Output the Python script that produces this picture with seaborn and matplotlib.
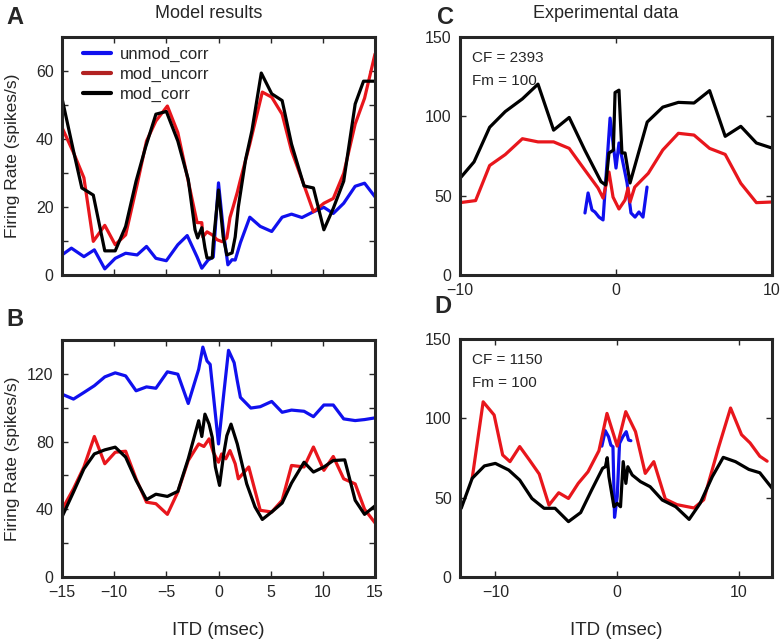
import numpy as np
import pandas as pd
import matplotlib
matplotlib.use("Agg")
import matplotlib.pyplot as plt
import seaborn as sns

# ---- Panel A : model results, top
a_x_unmod = [-15, -14.1, -12.9, -11.9, -10.9, -9.9, -8.9, -7.8, -6.9, -6.0, -5.0, -3.9, -3.0, -2.05, -1.6, -1.0,
             -0.5, 0.0, 0.5, 0.9, 1.3, 1.6, 2.1, 3.0, 4.0, 5.1, 6.1, 7.0, 8.0, 9.1, 10.1, 11.0, 12.0, 13.1, 14.0, 15.0]
a_unmod = [5.9, 7.9, 5.4, 7.4, 1.8, 4.9, 6.4, 5.9, 8.4, 4.9, 4.2, 8.9, 11.6, 5.3, 2.0, 4.4,
           5.3, 27.1, 12.0, 3.0, 4.5, 4.4, 9.5, 17.0, 14.3, 12.8, 17.0, 17.9, 16.9, 18.6, 19.9, 18.1, 21.1, 26.1, 27.0, 23.0]
a_x_uncorr = [-15, -13.9, -12.9, -12.0, -10.9, -9.9, -8.9, -7.8, -6.9, -6.0, -4.9, -3.9, -2.9, -2.05, -1.6, -1.5,
              -1.1, -0.6, -0.15, 0.35, 0.8, 1.1, 1.4, 1.8, 2.1, 3.0, 4.2, 5.1, 6.1, 7.0, 8.0, 9.1, 10.1, 11.0, 12.0,
              13.1, 14.0, 15.0]
a_uncorr = [43.4, 36.0, 28.6, 9.9, 14.6, 8.9, 11.8, 26.6, 39.4, 45.3, 49.7, 41.9, 27.6, 15.4, 15.4, 11.2,
            12.7, 11.8, 10.4, 9.8, 10.9, 16.9, 20.0, 24.3, 28.0, 38.5, 53.8, 52.3, 47.3, 36.5, 28.1, 18.6, 21.1, 22.5,
            29.9, 44.4, 52.0, 65.0]
a_x_corr = [-15, -13.9, -13.1, -12.0, -10.9, -9.9, -8.9, -7.9, -7.0, -6.0, -5.0, -3.9, -2.9, -2.25, -2.0, -1.6,
            -1.3, -1.1, -0.6, -0.5, 0.0, 0.45, 0.8, 1.3, 1.6, 1.9, 2.6, 3.2, 4.1, 5.1, 6.1, 7.0, 8.2, 9.1, 10.1, 11.0,
            12.0, 13.1, 13.9, 15.0]
a_corr = [52.0, 36.5, 25.6, 23.5, 7.1, 7.1, 14.3, 27.6, 37.5, 47.3, 48.1, 39.4, 28.1, 13.3, 10.9, 13.9,
          8.0, 5.0, 5.0, 9.5, 25.0, 11.2, 5.9, 6.5, 11.2, 20.0, 34.0, 42.4, 59.4, 53.3, 51.3, 38.5, 26.2, 25.6, 13.3,
          19.6, 27.6, 50.3, 57.0, 57.0]

# ---- Panel B : model results, bottom
b_x_unmod = [-15, -13.9, -12.9, -11.9, -10.9, -9.9, -8.9, -7.9, -6.9, -6.0, -4.9, -3.9, -2.9, -1.9, -1.5, -1.1,
             -0.8, -0.5, 0.0, 0.5, 0.96, 1.5, 1.8, 2.1, 3.1, 4.0, 5.1, 6.1, 7.0, 8.2, 9.1, 10.1, 11.0, 12.0, 13.1,
             14.0, 15.0]
b_unmod = [108, 105.1, 109, 113, 118.2, 120.6, 118.8, 110, 112.3, 111.5, 121.2, 119.8, 102.5, 122.7, 135.8, 127.6,
           125.6, 108, 78.6, 108, 133.9, 126.6, 115.9, 106.1, 99.8, 100.6, 103.7, 97.3, 98.6, 97.9, 94.7, 101.6,
           101.6, 93.4, 92.4, 93, 94]
b_x_uncorr = [-15, -13.9, -12.9, -11.9, -10.9, -9.9, -8.9, -7.9, -6.9, -6.0, -4.9, -3.9, -2.9, -1.9, -1.4, -0.9,
              -0.5, 0.0, 0.3, 0.7, 1.1, 1.6, 1.9, 2.9, 4.0, 5.1, 6.1, 7.0, 8.2, 9.1, 10.1, 11.0, 12.0, 13.1, 14.0, 15.0]
b_uncorr = [39.8, 52.1, 65, 83, 66.9, 73.7, 74.3, 58.0, 44.2, 43.3, 37.0, 50.2, 68.8, 78.6, 77.1, 81.6,
            73.7, 67.8, 72.7, 69.8, 74.7, 66.9, 58.0, 65.0, 39.4, 38.4, 45.3, 65.9, 65.0, 76.8, 63.0, 71.2, 58.0,
            55.0, 40.0, 32.0]
b_x_corr = [-15, -13.9, -12.9, -11.9, -10.9, -9.9, -8.9, -7.9, -6.9, -6.0, -4.9, -3.9, -2.9, -1.9, -1.6, -1.3,
            -0.9, -0.6, -0.3, 0.1, 0.5, 0.8, 1.2, 1.8, 2.7, 3.5, 4.2, 5.1, 6.1, 7.0, 8.2, 9.1, 10.1, 11.0, 12.1, 13.1,
            14.0, 15.0]
b_corr = [35.5, 50.2, 63.9, 72.7, 75.1, 76.7, 70.8, 57.1, 45.7, 48.9, 47.6, 50.6, 69.8, 92.3, 83.0, 96.2,
          90.3, 82.5, 65.0, 54.1, 72.7, 83.5, 90.3, 78.6, 55.1, 41.4, 34.0, 38.4, 43.7, 55.5, 67.8, 62.0, 65.0,
          68.8, 69.2, 45.3, 37.0, 42.0]

# ---- Panel C : experimental data, CF = 2393
c_x_unmod = [-1.99, -1.79, -1.54, -1.35, -1.09, -0.83, -0.38, -0.19, 0.0, 0.19, 0.45, 0.71, 0.96, 1.22, 1.47,
             1.73, 1.99]
c_unmod = [39.1, 51.7, 41.0, 39.7, 36.5, 34.7, 98.9, 83.2, 67.4, 83.2, 70.6, 58.0, 39.1, 36.5, 39.7, 36.5, 55.4]
c_x_uncorr = [-10, -9.0, -8.1, -7.1, -6.0, -5.0, -4.0, -3.0, -2.0, -1.15, -0.83, -0.45, -0.19, 0.19, 0.58, 0.77,
              0.9, 1.2, 2.07, 3.0, 4.0, 5.0, 6.0, 7.0, 8.0, 9.0, 10.0]
c_uncorr = [45.6, 46.9, 69.0, 75.9, 85.9, 83.9, 83.9, 79.8, 66.2, 54.8, 48.5, 64.9, 49.1, 41.6, 47.3, 54.8,
            46.0, 55.4, 64.1, 78.8, 89.3, 88.2, 79.8, 76.0, 57.8, 45.6, 46.0]
c_x_corr = [-10, -9.1, -8.1, -7.1, -6.0, -5.0, -4.0, -3.0, -2.0, -0.96, -0.66, -0.45, -0.17, -0.06, 0.19, 0.38,
            0.58, 0.9, 2.0, 3.0, 4.0, 5.0, 6.0, 7.0, 8.0, 9.0, 10.0]
c_corr = [60.9, 71.3, 93.1, 103, 111, 120.3, 91.3, 99.3, 78.7, 58.8, 56.7, 76.9, 78.7, 115.0, 116.5, 76.9,
          76.9, 58.0, 96.4, 105.8, 108.8, 108.4, 116.2, 87.4, 93.7, 83.2, 80.0]

# ---- Panel D : experimental data, CF = 1150
d_x_unmod = [-1.26, -0.98, -0.71, -0.52, -0.35, -0.22, 0.0, 0.19, 0.46, 0.74, 0.93, 1.12]
d_unmod = [82.5, 92.2, 88.4, 83.1, 82.1, 37.6, 50.6, 84.2, 88.4, 91.6, 86.3, 85.9]
d_x_uncorr = [-11.9, -11.0, -10.1, -9.4, -8.8, -8.0, -7.2, -6.4, -5.6, -4.8, -4.0, -3.2, -2.4, -1.5, -0.84, 0.0,
              0.7, 1.5, 2.3, 3.0, 3.95, 4.9, 6.3, 7.1, 8.3, 9.3, 10.2, 10.9, 11.7, 12.3]
d_uncorr = [62.2, 110.4, 102.1, 76.9, 72.7, 82.2, 73.7, 64.9, 45.3, 53.1, 49.5, 59.0, 66.3, 79.6, 103.1, 82.5,
            104.2, 91.6, 65.3, 72.7, 49.1, 45.6, 43.5, 48.7, 81.3, 106.5, 89.7, 84.5, 76.1, 73.0]
d_x_corr = [-12.8, -11.9, -10.9, -10.0, -8.9, -8.0, -7.0, -6.0, -5.1, -4.0, -3.0, -2.1, -1.2, -0.97, -0.82, -0.68,
            -0.27, 0.0, 0.27, 0.49, 0.71, 0.87, 1.23, 1.91, 2.7, 3.7, 4.8, 5.9, 6.8, 7.8, 8.7, 9.7, 10.8, 11.7, 12.7]
d_corr = [43.3, 62.2, 70.0, 71.6, 67.4, 61.1, 49.5, 43.3, 43.3, 34.9, 40.6, 54.8, 68.5, 69.5, 75.2, 63.2,
          44.3, 46.4, 44.3, 72.7, 59.0, 69.5, 64.3, 60.1, 56.9, 48.5, 44.3, 36.3, 46.4, 63.2, 75.4, 72.7, 67.8,
          65.7, 56.0]

conds = ["unmod_corr", "mod_uncorr", "mod_corr"]
cores = {"unmod_corr": "#1010ee", "mod_uncorr": "#e8161c", "mod_corr": "black"}


def monta_df(xs, ys):
    partes = []
    for c, x, y in zip(conds, xs, ys):
        partes.append(pd.DataFrame({"itd": x, "rate": y, "cond": c}))
    return pd.concat(partes, ignore_index=True)


sns.set_style("ticks")
plt.rcParams["font.family"] = ["Liberation Sans", "DejaVu Sans"]

W, H = 783, 641
fig = plt.figure(figsize=(W / 100, H / 100), dpi=100)


def pos(x0, x1, y0, y1):
    # caixa em pixels -> fracao da figura
    return [x0 / W, 1 - y1 / H, (x1 - x0) / W, (y1 - y0) / H]


ax_a = fig.add_axes(pos(62, 375, 37, 275))
ax_b = fig.add_axes(pos(62, 375, 340, 577))
ax_c = fig.add_axes(pos(460, 772, 37, 275))
ax_d = fig.add_axes(pos(460, 772, 339, 577))

paineis = [
    (ax_a, (a_x_unmod, a_x_uncorr, a_x_corr), (a_unmod, a_uncorr, a_corr)),
    (ax_b, (b_x_unmod, b_x_uncorr, b_x_corr), (b_unmod, b_uncorr, b_corr)),
    (ax_c, (c_x_unmod, c_x_uncorr, c_x_corr), (c_unmod, c_uncorr, c_corr)),
    (ax_d, (d_x_unmod, d_x_uncorr, d_x_corr), (d_unmod, d_uncorr, d_corr)),
]

for ax, xs, ys in paineis:
    df = monta_df(xs, ys)
    sns.lineplot(data=df, x="itd", y="rate", hue="cond", hue_order=conds, palette=cores,
                 estimator=None, sort=False, linewidth=2.3, ax=ax, legend=(ax is ax_a))
    ax.set_xlabel("")
    ax.set_ylabel("")
    for s in ax.spines.values():
        s.set_linewidth(2.2)
        s.set_visible(True)
    ax.tick_params(direction="in", top=True, right=True, length=4, width=1, labelsize=11.5)
    ax.tick_params(axis="x", pad=6)
    ax.tick_params(axis="y", pad=6)

# eixos
ax_a.set_xlim(-15, 15)
ax_a.set_xticks(np.arange(-15, 16, 5))
ax_a.set_xticklabels([])
ax_a.set_ylim(0, 70)
ax_a.set_yticks(np.arange(0, 71, 10))
ax_a.set_yticklabels(["0", "", "20", "", "40", "", "60", ""])

ax_b.set_xlim(-15, 15)
ax_b.set_xticks(np.arange(-15, 16, 5))
ax_b.set_ylim(0, 140)
ax_b.set_yticks(np.arange(0, 141, 20))
ax_b.set_yticklabels(["0", "", "40", "", "80", "", "120", ""])

ax_c.set_xlim(-10, 10)
ax_c.set_xticks([-10, 0, 10])
ax_c.set_ylim(0, 150)
ax_c.set_yticks([0, 50, 100, 150])

ax_d.set_xlim(-12.9, 12.7)
ax_d.set_xticks([-10, 0, 10])
ax_d.set_ylim(0, 150)
ax_d.set_yticks([0, 50, 100, 150])

# rotulos
for ax in (ax_a, ax_b):
    ax.set_ylabel("Firing Rate (spikes/s)", fontsize=12.5)
    ax.yaxis.set_label_coords(-0.135, 0.5)
for ax in (ax_b, ax_d):
    ax.set_xlabel("ITD (msec)", fontsize=13.5)
    ax.xaxis.set_label_coords(0.5, -0.19)

leg = ax_a.legend(loc="upper left", bbox_to_anchor=(0.025, 1.015), frameon=False, fontsize=12,
                  handlelength=1.7, handletextpad=0.5, labelspacing=0.3, borderaxespad=0.4)
for linha in leg.get_lines():
    linha.set_linewidth(3)
leg.get_lines()[1].set_color("#b22222")

ax_c.text(0.04, 0.91, "CF = 2393", transform=ax_c.transAxes, fontsize=11, va="center")
ax_c.text(0.04, 0.815, "Fm = 100", transform=ax_c.transAxes, fontsize=11, va="center")
ax_d.text(0.04, 0.91, "CF = 1150", transform=ax_d.transAxes, fontsize=11, va="center")
ax_d.text(0.04, 0.815, "Fm = 100", transform=ax_d.transAxes, fontsize=11, va="center")

fig.text(209 / W, 1 - 14 / H, "Model results", ha="center", va="center", fontsize=13)
fig.text(606 / W, 1 - 14 / H, "Experimental data", ha="center", va="center", fontsize=13)
for letra, (px, py) in zip("ABCD", [(15, 17), (15, 320), (446, 17), (443, 306)]):
    fig.text(px / W, 1 - py / H, letra, ha="center", va="center", fontsize=17, fontweight="bold")

plt.savefig("out.png", dpi=100)
